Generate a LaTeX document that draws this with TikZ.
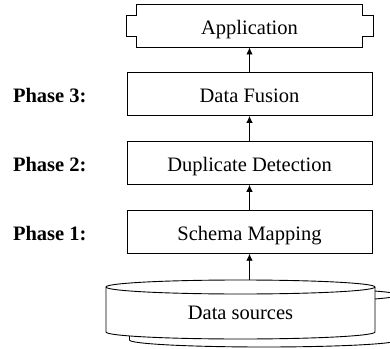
\documentclass[tikz,border=0pt]{standalone}
\usepackage{fontspec}
\setmainfont{Liberation Serif}
\usetikzlibrary{positioning,arrows.meta}
\tikzset{
  phasebox/.style={draw,line width=0.9pt,minimum width=245pt,minimum height=42.5pt,inner sep=0pt,text height=16.5pt,text depth=0pt},
  phaselbl/.style={font=\fontsize{20.5}{24}\selectfont\bfseries,text height=16.5pt,text depth=0pt},
  flow/.style={line width=0.9pt,-{Latex[length=7pt,width=6.5pt]}}
}
\begin{document}
\begin{tikzpicture}[x=1pt,y=1pt,font=\fontsize{20.5}{24}\selectfont]
            \clip (0,0) rectangle (390,348);
            \node[phasebox] (schema) at (249.5,116) {Schema Mapping};
            \node[phasebox,above=25.5pt of schema] (dup) {Duplicate Detection};
            \node[phasebox,above=25.5pt of dup] (fusion) {Data Fusion};
            \node[minimum width=225pt,minimum height=43pt,inner sep=0pt,text height=16.5pt,text depth=0pt,above=25pt of fusion] (app) {Application};
            \draw[line width=0.9pt] (app.north west) -- (app.north east) -- ([yshift=-11pt]app.north east) -- ++(11pt,0)
                -- ([xshift=11pt,yshift=11pt]app.south east) -- ([yshift=11pt]app.south east) -- (app.south east)
                -- (app.south west) -- ([yshift=11pt]app.south west) -- ++(-10pt,0)
                -- ([xshift=-10pt,yshift=-11pt]app.north west) -- ([yshift=-11pt]app.north west) -- cycle;

            \node[phaselbl,left=36.5pt of schema] (p1) {Phase 1:};
            \node[phaselbl,left=36.5pt of dup] (p2) {Phase 2:};
            \node[phaselbl,left=36.5pt of fusion] (p3) {Phase 3:};

            % data sources
            \draw[line width=0.9pt,fill=white] (129.5,53) -- (129.5,8) arc (180:360:134.5pt and 7pt) -- (398.5,53) arc (0:180:134.5pt and 7pt) -- cycle;
            \draw[line width=0.9pt] (129.5,53) arc (180:360:134.5pt and 7pt);
            \draw[line width=0.9pt,fill=white] (106,61) -- (106,16) arc (180:360:134.5pt and 7pt) -- (375,61) arc (0:180:134.5pt and 7pt) -- cycle;
            \draw[line width=0.9pt] (106,61) arc (180:360:134.5pt and 7pt);
            \node[text height=16.5pt,text depth=0pt] (src) at (240.5,37) {Data sources};
            \coordinate (srctop) at (249.5,68);

            \draw[flow] (srctop) -- (schema.south);
            \draw[flow] (schema.north) -- (dup.south);
            \draw[flow] (dup.north) -- (fusion.south);
            \draw[flow] (fusion.north) -- (app.south);
\end{tikzpicture}
\end{document}
